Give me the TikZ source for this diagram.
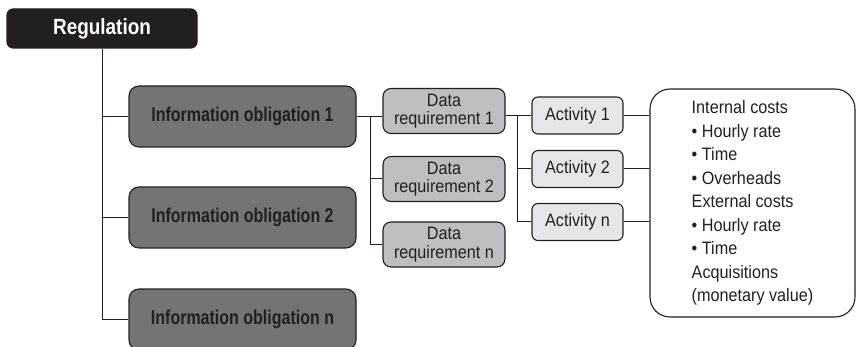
\documentclass[tikz,border=0pt]{standalone}
\usepackage{fontspec}
\setmainfont[FakeStretch=0.9]{Liberation Sans}
\newfontfamily\obfont[FakeStretch=0.8]{Liberation Sans}
\newfontfamily\regfont[FakeStretch=0.86]{Liberation Sans}
\definecolor{ink}{RGB}{35,31,32}
\definecolor{infofill}{RGB}{116,116,118}
\definecolor{datafill}{RGB}{190,190,192}
\definecolor{actfill}{RGB}{230,230,232}
\tikzset{
  regbox/.style={draw=ink, fill=ink, text=white, line width=1.1pt, rounded corners=6pt,
    minimum width=190pt, minimum height=39pt, inner sep=0pt,
    font=\regfont\bfseries\fontsize{22}{24}\selectfont},
  infobox/.style={draw=ink, fill=infofill, text=ink, line width=1.1pt, rounded corners=10pt,
    minimum width=227pt, minimum height=61pt, inner sep=0pt,
    font=\obfont\bfseries\fontsize{20}{22}\selectfont},
  databox/.style={draw=ink, fill=datafill, text=ink, line width=1.1pt, rounded corners=8pt,
    minimum width=122pt, minimum height=45pt, inner sep=0pt, align=center,
    font=\fontsize{18}{18.5}\selectfont},
  actbox/.style={draw=ink, fill=actfill, text=ink, line width=1.1pt, rounded corners=6pt,
    minimum width=91pt, minimum height=37pt, inner sep=0pt,
    font=\fontsize{18}{20}\selectfont},
  costbox/.style={draw=ink, fill=white, text=ink, line width=1.1pt, rounded corners=20pt,
    minimum width=205pt, minimum height=228pt, inner sep=0pt, align=left,
    font=\fontsize{18}{23.5}\selectfont},
  conn/.style={draw=ink, line width=1pt}
}
\begin{document}
\begin{tikzpicture}[x=1pt,y=1pt]
\useasboundingbox (0,0) rectangle (856,-347);
\node[regbox] (reg) at (102,-28.5) {Regulation};
\node[infobox] (info1) at (242.5,-116.5) {Information obligation 1};
\node[infobox] (info2) at (242.5,-217.5) {Information obligation 2};
\node[infobox] (infon) at (242.5,-319.5) {Information obligation n};
\node[databox] (data1) at (444,-111) {Data\\requirement 1};
\node[databox] (data2) at (444,-179) {Data\\requirement 2};
\node[databox] (datan) at (444,-244.5) {Data\\requirement n};
\node[actbox] (act1) at (577.5,-115.5) {Activity 1};
\node[actbox] (act2) at (577.5,-169) {Activity 2};
\node[actbox] (actn) at (577.5,-222) {Activity n};
\node[costbox] (costs) at (752.5,-203) {Internal costs\\\textbullet\ Hourly rate\\\textbullet\ Time\\\textbullet\ Overheads\\External costs\\\textbullet\ Hourly rate\\\textbullet\ Time\\Acquisitions\\(monetary value)};
\coordinate (j1) at (370,-116.5);
\coordinate (j2) at (517,-115.5);
\draw[conn] (reg.south) |- (infon.west);
\draw[conn] (reg.south |- info1.west) -- (info1.west);
\draw[conn] (reg.south |- info2.west) -- (info2.west);
\draw[conn] (info1.east) -- (info1.east -| data1.west);
\draw[conn] (j1) |- (datan.west);
\draw[conn] (j1 |- data2.west) -- (data2.west);
\draw[conn] (data1.east |- act1.west) -- (act1.west);
\draw[conn] (j2) |- (actn.west);
\draw[conn] (j2 |- act2.west) -- (act2.west);
\draw[conn] (act1.east) -- (act1.east -| costs.west);
\draw[conn] (act2.east) -- (act2.east -| costs.west);
\draw[conn] (actn.east) -- (actn.east -| costs.west);
\end{tikzpicture}
\end{document}
